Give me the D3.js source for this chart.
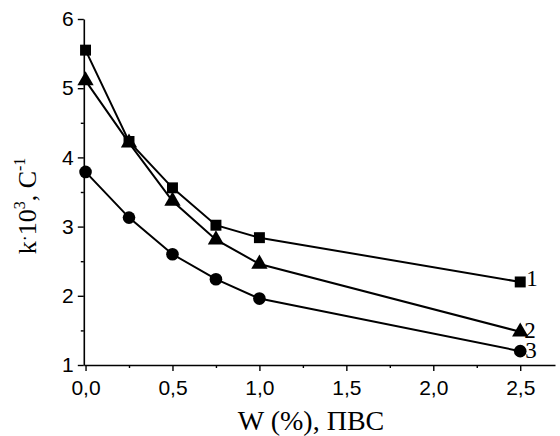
<!DOCTYPE html>
<html><head><meta charset="utf-8">
<script src="https://cdn.jsdelivr.net/npm/d3@7"></script>
<style>body{margin:0;background:#fff}svg{display:block}</style>
</head><body>
<svg id="c" width="560" height="436"></svg>
<script>
const xValues = [0, 0.25, 0.5, 0.75, 1.0, 2.5];
const series1 = [5.55, 4.23, 3.56, 3.02, 2.84, 2.20];
const series2 = [5.11, 4.21, 3.37, 2.81, 2.46, 1.48];
const series3 = [3.79, 3.13, 2.60, 2.24, 1.96, 1.20];
const seriesLabels = ["1", "2", "3"];
const xTickLabels = ["0,0","0,5","1,0","1,5","2,0","2,5"];
const yTickLabels = ["1","2","3","4","5","6"];

const svg = d3.select("#c");
const x = d3.scaleLinear().domain([-0.01, 2.7]).range([83.8, 555]);
const y = d3.scaleLinear().domain([1, 6]).range([365, 19]);
const ink = "#000";
const sans = "'Liberation Sans', Arial, sans-serif";
const serif = "'Liberation Serif', 'Times New Roman', serif";

const xMajor = [0,0.5,1,1.5,2,2.5];
const xMinor = [0.25,0.75,1.25,1.75,2.25];
const yMajor = [1,2,3,4,5,6];
const yMinor = [1.5,2.5,3.5,4.5,5.5];

const xa = svg.append("g").attr("transform", `translate(0,${y(1)})`)
  .call(d3.axisBottom(x).tickValues(xMajor).tickSize(6).tickSizeOuter(0)
    .tickFormat((d,i)=>xTickLabels[i]));
xa.select(".domain").attr("stroke-width",1.6);
xa.selectAll(".tick line").attr("stroke-width",1.4);
xa.selectAll("text").style("font-family",sans).style("font-size","21px").attr("y",15).attr("fill",ink);
svg.append("g").attr("transform", `translate(0,${y(1)})`)
  .call(d3.axisBottom(x).tickValues(xMinor).tickSize(3).tickFormat(""))
  .call(g=>g.select(".domain").remove())
  .selectAll(".tick line").attr("stroke-width",1.4);

const ya = svg.append("g").attr("transform", `translate(${x(-0.01)},0)`)
  .call(d3.axisLeft(y).tickValues(yMajor).tickSize(6).tickSizeOuter(0)
    .tickFormat((d,i)=>yTickLabels[i]));
ya.select(".domain").attr("stroke-width",1.6);
ya.selectAll(".tick line").attr("stroke-width",1.4);
ya.selectAll("text").style("font-family",sans).style("font-size","21px").attr("x",-10).attr("fill",ink);
svg.append("g").attr("transform", `translate(${x(-0.01)},0)`)
  .call(d3.axisLeft(y).tickValues(yMinor).tickSize(3).tickFormat(""))
  .call(g=>g.select(".domain").remove())
  .selectAll(".tick line").attr("stroke-width",1.4);

// lines
const all = [series1, series2, series3];
const line = d3.line().x((d,i)=>x(xValues[i])).y(d=>y(d));
all.forEach(s=>{
  svg.append("path").datum(s).attr("d",line).attr("fill","none").attr("stroke",ink).attr("stroke-width",2);
});

// markers
const sym = [d3.symbolSquare, d3.symbolTriangle, d3.symbolCircle];
const sizes = [120, 115, 125];
all.forEach((s,k)=>{
  svg.append("g").selectAll("path").data(s).join("path")
    .attr("transform",(d,i)=>`translate(${x(xValues[i])},${y(d)})`)
    .attr("d", d3.symbol().type(sym[k]).size(sizes[k]))
    .attr("fill",ink);
});

// series labels
const lblDx = [6, 4, 5];
const lblDy = [4, 6, 7];
all.forEach((s,k)=>{
  svg.append("text").attr("x", x(xValues[5]) + lblDx[k]).attr("y", y(s[5]) + lblDy[k])
    .style("font-family",serif).style("font-size","23px").attr("fill",ink).text(seriesLabels[k]);
});

// axis titles
svg.append("text").attr("x",311).attr("y",430).attr("text-anchor","middle")
  .style("font-family",serif).style("font-size","28px").attr("fill",ink).text("W (%), ПВС");

const yt = svg.append("text").attr("transform","translate(36,206) rotate(-90)").attr("text-anchor","middle")
  .style("font-family",serif).style("font-size","26px").attr("fill",ink);
yt.append("tspan").text("k");
yt.append("tspan").attr("dy",-5).style("font-size","18px").text("·");
yt.append("tspan").attr("dy",5).text("10");
yt.append("tspan").attr("dy",-11).style("font-size","16px").text("3");
yt.append("tspan").attr("dy",11).text(", C");
yt.append("tspan").attr("dy",-11).style("font-size","16px").text("-1");
</script>
</body></html>
